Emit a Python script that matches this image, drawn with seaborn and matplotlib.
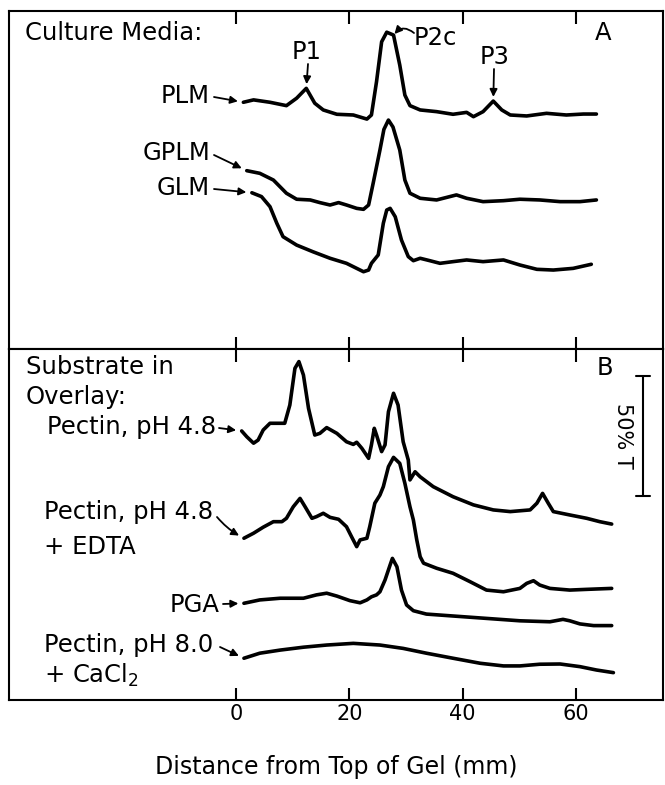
import matplotlib
matplotlib.use("Agg")
import matplotlib.pyplot as plt
import pandas as pd
import seaborn as sns

# ---------------- data (distance in mm, signal in % T units) ----------------
tick_vals = [0, 20, 40, 60]
tick_labels = ["0", "20", "40", "60"]

# Panel A: culture media
plm_x = [1.3, 3.1, 6.0, 8.9, 10.7, 12.4, 13.9, 15.4, 17.8, 20.7, 23.1, 23.9, 24.8, 25.7, 26.6, 27.8, 28.9,
         29.8, 30.7, 32.5, 35.4, 38.3, 40.7, 41.9, 43.6, 45.4, 46.9, 48.4, 51.3, 54.8, 58.3, 61.3, 63.6]
plm_y = [102.8, 103.8, 102.8, 101.4, 104.5, 108.6, 102.4, 99.6, 97.8, 97.5, 95.8, 97.5, 111.4, 128.0, 132.0,
         130.8, 118.3, 105.8, 101.4, 99.6, 98.9, 97.8, 98.6, 96.8, 98.9, 103.3, 99.6, 97.5, 97.1, 98.2, 97.5,
         97.9, 97.9]

gplm_x = [1.9, 4.2, 6.6, 8.9, 10.7, 13.1, 14.8, 16.6, 18.1, 19.5, 21.3, 22.5, 23.4, 24.2, 25.4, 26.1, 26.9,
          27.7, 28.9, 29.8, 30.7, 32.5, 35.4, 38.9, 40.7, 43.6, 47.2, 50.1, 53.6, 57.2, 60.7, 63.6]
gplm_y = [74.3, 73.2, 70.4, 64.9, 62.4, 62.1, 61.0, 60.0, 61.0, 60.0, 58.6, 58.2, 60.0, 69.0, 82.9, 91.5, 95.4,
          92.5, 82.9, 70.4, 64.9, 62.8, 62.1, 64.2, 62.8, 61.4, 61.8, 62.4, 62.1, 61.4, 61.4, 62.1]

glm_x = [2.8, 4.5, 6.0, 7.2, 8.3, 10.7, 13.6, 16.6, 19.5, 22.5, 23.4, 23.9, 25.1, 26.0, 26.6, 27.2, 28.1,
         29.2, 30.4, 31.3, 32.5, 34.2, 36.0, 38.3, 40.7, 43.6, 47.2, 50.1, 53.1, 56.0, 59.5, 62.7]
glm_y = [65.1, 63.5, 59.3, 52.4, 46.8, 43.3, 40.5, 37.8, 35.7, 32.2, 32.9, 35.7, 39.2, 52.4, 57.9, 58.6, 55.1,
         45.4, 38.5, 36.8, 37.8, 36.8, 35.7, 36.4, 37.1, 36.4, 37.1, 35.0, 33.2, 32.9, 33.6, 35.3]

# Panel B: substrate in overlay
pec48_x = [1.0, 1.9, 3.1, 3.9, 4.8, 6.0, 7.5, 8.6, 9.5, 10.4, 11.1, 11.9, 12.8, 13.9, 14.8, 16.0, 17.8, 19.5,
           20.7, 21.3, 22.2, 23.4, 23.9, 24.4, 24.8, 25.7, 26.3, 26.9, 27.8, 28.6, 29.5, 30.4, 30.7, 31.6,
           32.5, 34.8, 38.3, 41.9, 45.4, 48.4, 51.9, 53.1, 54.1, 55.1, 56.0, 58.9, 61.9, 64.2, 66.3]
pec48_y = [112.1, 109.7, 107.0, 108.3, 112.5, 115.3, 115.3, 115.3, 122.9, 138.2, 141.0, 135.4, 121.5, 110.4,
           111.1, 113.5, 111.1, 107.6, 106.5, 107.4, 104.9, 100.7, 106.3, 113.2, 110.4, 103.5, 106.3, 120.1,
           127.8, 122.9, 107.6, 100.0, 91.7, 95.1, 93.0, 88.9, 84.7, 81.3, 79.2, 78.5, 79.2, 82.0, 86.1, 82.0,
           78.5, 77.1, 75.7, 74.3, 73.3]

edta_x = [1.4, 3.1, 4.8, 6.6, 8.1, 8.9, 10.1, 11.3, 12.2, 13.4, 14.2, 15.4, 16.6, 18.1, 19.5, 20.4, 21.3, 21.9,
          23.1, 23.6, 24.5, 25.4, 26.0, 26.9, 27.8, 28.9, 29.8, 30.7, 31.3, 31.9, 32.5, 33.1, 35.4, 38.3, 41.3,
          44.2, 47.2, 50.1, 51.3, 52.5, 53.6, 55.4, 58.9, 61.9, 66.3]
edta_y = [67.4, 69.5, 72.0, 74.3, 74.3, 75.7, 80.5, 84.0, 80.5, 75.7, 76.4, 77.8, 76.1, 75.3, 72.2, 68.0, 63.9,
          66.7, 67.4, 72.2, 82.0, 85.4, 88.9, 97.2, 101.1, 98.6, 90.3, 80.5, 75.0, 66.7, 59.7, 57.0, 54.9, 52.8,
          49.3, 45.8, 45.1, 46.5, 48.6, 49.7, 47.9, 46.5, 45.8, 46.1, 46.5]

pga_x = [1.4, 4.2, 7.8, 11.9, 14.2, 16.0, 17.8, 20.1, 21.9, 23.1, 23.9, 24.8, 25.4, 26.3, 27.2, 27.6, 28.4,
         29.2, 30.1, 31.3, 33.6, 38.3, 44.2, 50.1, 55.4, 57.7, 58.9, 60.7, 63.1, 66.3]
pga_y = [40.3, 41.7, 42.4, 42.4, 43.8, 44.5, 43.3, 41.4, 40.5, 41.7, 43.0, 43.8, 45.1, 50.0, 56.3, 59.0, 55.5,
         45.8, 39.6, 37.2, 35.8, 35.0, 34.0, 33.0, 32.6, 33.6, 33.0, 31.7, 31.0, 31.0]

cacl_x = [1.4, 4.2, 7.8, 11.9, 16.0, 20.7, 25.4, 29.5, 33.6, 38.3, 43.1, 47.2, 50.1, 53.6, 57.2, 60.7, 63.6, 66.6]
cacl_y = [17.4, 19.5, 20.8, 22.0, 22.9, 23.6, 22.9, 21.5, 19.5, 17.4, 15.3, 14.2, 14.2, 14.9, 15.0, 13.9, 12.5, 11.4]

scale_T = 50  # scale bar: 50 % T

# ---------------- figure ----------------
sns.set_style("white")
plt.rcParams["font.family"] = ["DejaVu Sans"]
plt.rcParams["text.color"] = "black"
plt.rcParams["axes.labelcolor"] = "black"
plt.rcParams["xtick.color"] = "black"
plt.rcParams["xtick.labelcolor"] = "black"

W, H = 665, 785
fig = plt.figure(figsize=(W / 100, H / 100), dpi=100)


def fx(px):
    return px / W


def fy(py):
    return 1 - py / H


axA = fig.add_axes([fx(9), fy(349), (663 - 9) / W, (349 - 11) / H])
axB = fig.add_axes([fx(9), fy(700), (663 - 9) / W, (700 - 349) / H])

PX_PER_MM = 340 / 60
PX_PER_T = 2.4
XL = ((9 - 236) / PX_PER_MM, (663 - 236) / PX_PER_MM)


def long_form(traces):
    frames = [pd.DataFrame({"mm": x, "T": y, "trace": name}) for name, (x, y) in traces.items()]
    return pd.concat(frames, ignore_index=True)


dfA = long_form({"PLM": (plm_x, plm_y), "GPLM": (gplm_x, gplm_y), "GLM": (glm_x, glm_y)})
dfB = long_form({"Pectin 4.8": (pec48_x, pec48_y), "Pectin 4.8 EDTA": (edta_x, edta_y),
                 "PGA": (pga_x, pga_y), "Pectin 8.0 CaCl2": (cacl_x, cacl_y)})

for ax, df in ((axA, dfA), (axB, dfB)):
    sns.lineplot(data=df, x="mm", y="T", units="trace", estimator=None, sort=False,
                 color="black", lw=2.6, ax=ax, legend=False)
    for ln in ax.lines:
        ln.set_solid_joinstyle("round")
        ln.set_solid_capstyle("round")
    ax.set_xlim(XL)
    ax.set_xticks(tick_vals)
    ax.set_yticks([])
    ax.set_ylabel("")
    ax.set_xlabel("")
    for sp in ax.spines.values():
        sp.set_visible(True)
        sp.set_color("black")
        sp.set_linewidth(1.5)
    ax.tick_params(axis="x", top=True, bottom=True, direction="in", length=9, width=1.5, color="black")

axA.set_ylim(0, 338 / PX_PER_T)
axB.set_ylim(0, 351 / PX_PER_T)
axA.tick_params(labelbottom=False)
axB.set_xticklabels(tick_labels)
axB.tick_params(labelbottom=True, labelsize=15, pad=3)
axB.set_xlabel("Distance from Top of Gel (mm)", fontsize=17, labelpad=22, color="black")

FS = 17.5
arrow = dict(arrowstyle="-|>", color="black", lw=1.3, mutation_scale=11, shrinkA=0, shrinkB=4)


def label(txt, x, y, ha="left", fs=FS, **kw):
    fig.text(fx(x), fy(y), txt, ha=ha, va="center", fontsize=fs, color="black", **kw)


def point(ax, tx, ty, x, y, **kw):
    props = dict(arrow)
    props.update(kw)
    ax.annotate("", xy=(x, y), xycoords="data", xytext=(fx(tx), fy(ty)),
                textcoords="figure fraction", arrowprops=props)


# Panel A texts
label("Culture Media:", 25, 33)
label("A", 603, 33, ha="center")
label("PLM", 210, 96, ha="right")
label("GPLM", 210, 153, ha="right")
label("GLM", 210, 188, ha="right")
point(axA, 214, 97, plm_x[0], plm_y[0])
point(axA, 214, 155, gplm_x[0], gplm_y[0])
point(axA, 214, 189, glm_x[0], glm_y[0])

label("P1", 307, 52, ha="center")
label("P2c", 414, 38)
label("P3", 495, 57, ha="center")
point(axA, 308, 64, plm_x[5], plm_y[5], shrinkB=3)
point(axA, 494, 69, plm_x[25], plm_y[25], shrinkB=3)
point(axA, 414, 33, plm_x[15], plm_y[15], shrinkB=1, connectionstyle="arc3,rad=0.5")

# Panel B texts
label("Substrate in", 26, 367)
label("Overlay:", 26, 397)
label("Pectin, pH 4.8", 216, 427, ha="right")
label("Pectin, pH 4.8", 44, 512)
label("+ EDTA", 44, 547)
label("PGA", 220, 605, ha="right")
label("Pectin, pH 8.0", 44, 645)
label("+ CaCl$_2$", 44, 675)
label("B", 605, 368, ha="center")
point(axB, 219, 428, pec48_x[0], pec48_y[0])
point(axB, 217, 517, edta_x[0], edta_y[0], connectionstyle="arc3,rad=0.1")
point(axB, 223, 604, pga_x[0], pga_y[0])
point(axB, 220, 647, cacl_x[0], cacl_y[0])

# 50 % T scale bar
bar_x = (643 - 236) / PX_PER_MM
bar_y0 = (700 - 496) / PX_PER_T
cap = 7 / PX_PER_MM
axB.plot([bar_x, bar_x], [bar_y0, bar_y0 + scale_T], color="black", lw=1.5)
for yy in (bar_y0, bar_y0 + scale_T):
    axB.plot([bar_x - cap, bar_x + cap], [yy, yy], color="black", lw=1.5)
label("50% T", 623, 436, ha="center", fs=15, rotation=-90)

fig.savefig("out.png", dpi=100)
